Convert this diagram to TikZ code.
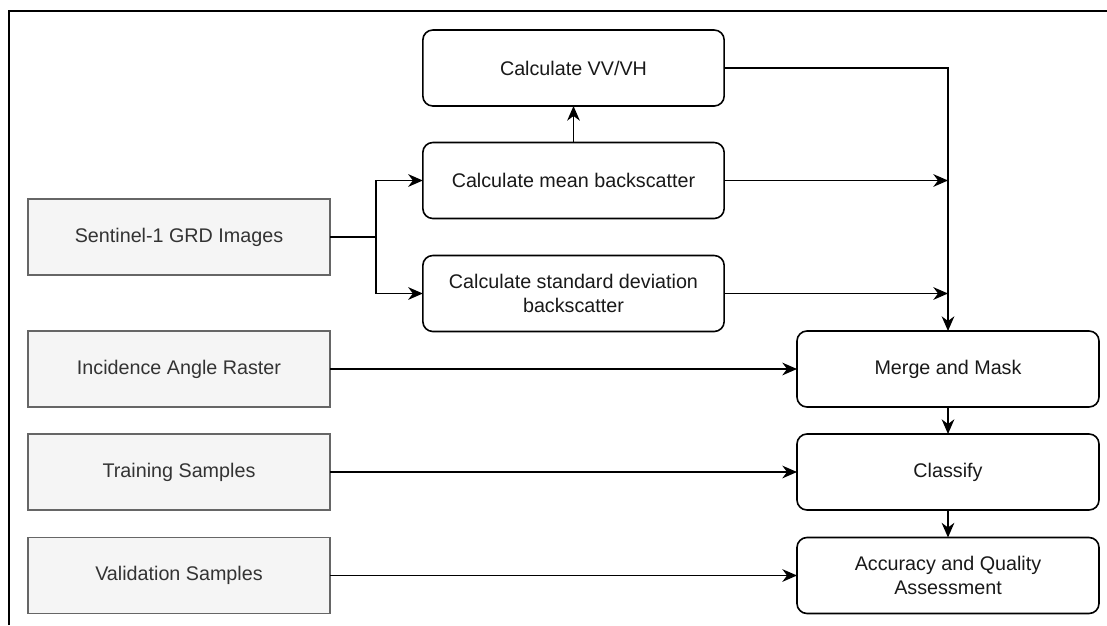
\documentclass[tikz,border=0pt]{standalone}
\usepackage{fontspec}
\setmainfont{Liberation Sans}
\usetikzlibrary{arrows.meta}
\definecolor{gfill}{HTML}{F5F5F5}
\definecolor{gline}{HTML}{666666}
\definecolor{gtext}{HTML}{333333}
\begin{document}
\begin{tikzpicture}[x=0.75pt,y=-0.75pt,
  font=\fontsize{14.8}{17.5}\selectfont,
  gbox/.style={draw=gline, fill=gfill, text=gtext, line width=1pt,
    minimum width=226.5pt, minimum height=57pt, inner sep=0pt, outer sep=0pt, align=center},
  rbox/.style={draw=black, fill=white, text=black!90, line width=1.2pt, rounded corners=7.5pt,
    minimum width=226pt, minimum height=57pt, inner sep=0pt, outer sep=0pt, align=center},
  arr/.style={-{Stealth[length=11pt,width=9.5pt,inset=3.5pt]}, line width=1.1pt}
]
\useasboundingbox (0,0) rectangle (1107,625);
\fill[white] (0,0) rectangle (1107,625);
\draw[line width=1.2pt] (9,625) -- (9,11) -- (1107,11);

\node[gbox] (s1)  at (179,237)   {Sentinel-1 GRD Images};
\node[gbox] (inc) at (179,369)   {Incidence Angle Raster};
\node[gbox] (tr)  at (179,472)   {Training Samples};
\node[gbox] (val) at (179,575.5) {Validation Samples};

\node[rbox] (vv)   at (573.5,68)    {Calculate VV/VH};
\node[rbox] (mean) at (573.5,180.5) {Calculate mean backscatter};
\node[rbox] (std)  at (573.5,293.5) {Calculate standard deviation\\backscatter};

\node[rbox, minimum width=226.5pt] (mm)  at (948,369)   {Merge and Mask};
\node[rbox, minimum width=226.5pt] (cl)  at (948,472)   {Classify};
\node[rbox, minimum width=226.5pt] (acc) at (948,575.5) {Accuracy and Quality\\Assessment};

\coordinate (br) at (376,237);

\draw[arr] (s1.east) -- (br) |- (mean.west);
\draw[arr] (br) |- (std.west);
\draw[arr] (mean.north) -- (vv.south);
\draw[arr] (vv.east) -| (mm.north);
\draw[arr] (mean.east) -- (mean.east -| mm.north);
\draw[arr] (std.east) -- (std.east -| mm.north);
\draw[arr] (inc.east) -- (mm.west);
\draw[arr] (tr.east) -- (cl.west);
\draw[arr] (val.east) -- (acc.west);
\draw[arr] (mm.south) -- (cl.north);
\draw[arr] (cl.south) -- (acc.north);
\end{tikzpicture}
\end{document}
